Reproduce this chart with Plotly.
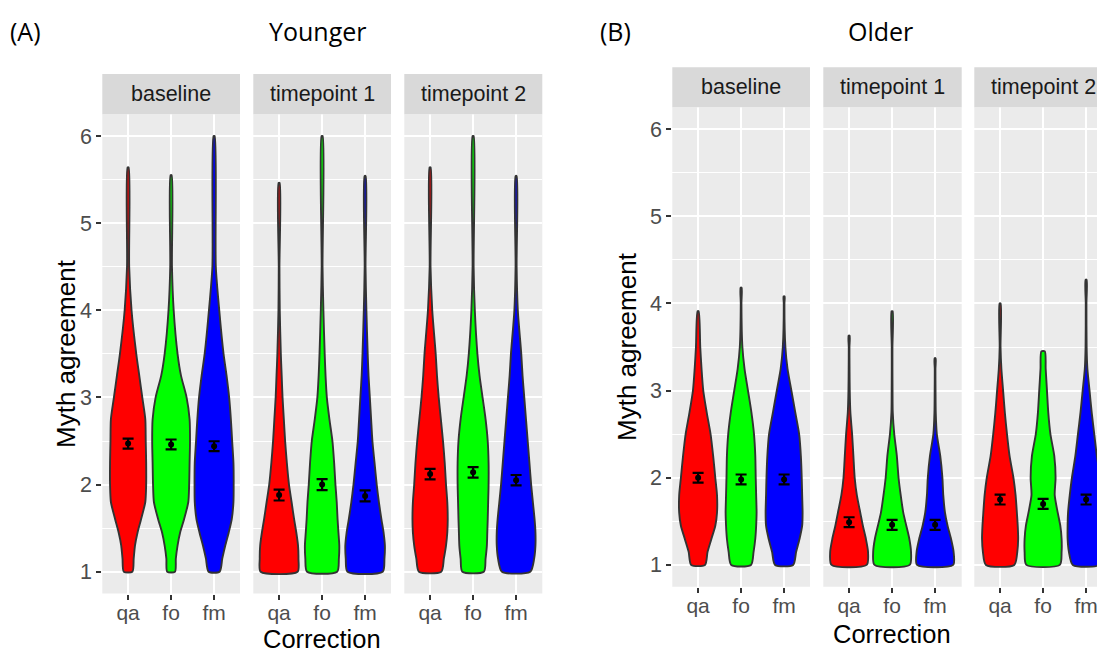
import plotly.graph_objects as go

# page body has an 8px default margin; figure is sized to fill the rest
OFF = 8
W, H = 1105 - OFF, 653 - OFF

# ---------------- data ----------------
CATEGORIES = ["qa", "fo", "fm"]
TIMEPOINTS = ["baseline", "timepoint 1", "timepoint 2"]
COLORS = ["#FF0000", "#00FF00", "#0000FF"]
Y_TICKS = [1, 2, 3, 4, 5, 6]
# y levels at which violin half-widths (in category units) were read
LEVELS = [1.0, 1.15, 1.3, 1.45, 1.6, 1.8, 2.0, 2.25, 2.5, 2.75, 3.0, 3.25, 3.5, 4.0, 4.5]

# Younger - baseline
young_base_qa = [.10, .13, .16, .22, .30, .40, .42, .42, .41, .40, .33, .26, .19, .08, .025]
young_base_fo = [.09, .11, .15, .21, .30, .40, .42, .43, .44, .43, .36, .23, .15, .06, .02]
young_base_fm = [.13, .19, .26, .34, .41, .45, .455, .45, .42, .39, .35, .29, .22, .12, .04]
young_base_tops = [5.64, 5.55, 6.0]
young_base_means = [2.47, 2.46, 2.44]
young_base_se = [0.057, 0.057, 0.057]

# Younger - timepoint 1
young_t1_qa = [.43, .45, .44, .40, .35, .29, .23, .18, .14, .11, .08, .06, .04, .015, .008]
young_t1_fo = [.35, .39, .40, .38, .36, .34, .31, .28, .24, .17, .11, .08, .06, .03, .01]
young_t1_fm = [.41, .45, .46, .43, .38, .32, .27, .22, .17, .14, .11, .08, .06, .03, .01]
young_t1_tops = [5.46, 6.0, 5.54]
young_t1_means = [1.88, 2.00, 1.87]
young_t1_se = [0.063, 0.063, 0.063]

# Younger - timepoint 2
young_t2_qa = [.26, .32, .37, .40, .41, .40, .37, .34, .30, .25, .20, .16, .13, .05, .01]
young_t2_fo = [.25, .29, .32, .33, .34, .35, .36, .36, .34, .29, .22, .15, .10, .04, .012]
young_t2_fm = [.33, .42, .45, .45, .43, .39, .35, .31, .27, .23, .19, .15, .12, .04, .012]
young_t2_tops = [5.64, 6.0, 5.54]
young_t2_means = [2.12, 2.14, 2.05]
young_t2_se = [0.06, 0.06, 0.06]

# Older - baseline
old_base_qa = [.16, .22, .31, .40, .44, .44, .40, .35, .29, .20, .12, .08, .05]
old_base_fo = [.23, .29, .33, .35, .36, .35, .34, .33, .30, .24, .16, .08, .03, .008]
old_base_fm = [.21, .28, .36, .42, .43, .42, .41, .39, .35, .26, .17, .08, .03, .008]
old_base_tops = [3.91, 4.18, 4.08]
old_base_means = [2.00, 1.98, 1.98]
old_base_se = [0.057, 0.057, 0.057]

# Older - timepoint 1
old_t1_qa = [.41, .44, .39, .32, .26, .18, .13, .10, .07, .03, .015, .01, .008]
old_t1_fo = [.41, .44, .40, .33, .26, .20, .15, .11, .05, .015, .01, .008, .008]
old_t1_fm = [.42, .43, .37, .29, .23, .19, .17, .12, .04, .015, .01, .008]
old_t1_tops = [3.63, 3.91, 3.37]
old_t1_means = [1.49, 1.46, 1.46]
old_t1_se = [0.057, 0.057, 0.057]

# Older - timepoint 2
old_t2_qa = [.33, .40, .42, .41, .39, .36, .31, .22, .16, .11, .07, .03, .01]
old_t2_fo = [.39, .43, .43, .40, .34, .27, .29, .26, .17, .12, .09, .06]
old_t2_fm = [.31, .40, .43, .43, .42, .38, .33, .25, .19, .13, .08, .03, .012, .008]
old_t2_tops = [4.0, 3.45, 4.27]
old_t2_top_w = [0.012, 0.04, 0.012]
old_t2_means = [1.75, 1.70, 1.75]
old_t2_se = [0.057, 0.057, 0.057]

# ---------------- layout geometry (page pixels) ----------------
FONT = "Liberation Sans, Arial, sans-serif"
TITLE_FONT = "Open Sans, Noto Sans, sans-serif"

def px(p):
    return (p - OFF) / W

def py(p):
    return 1 - (p - OFF) / H

A_TOP, A_BOT, A_STRIP = 114.2, 593.5, 74.0
B_TOP, B_BOT, B_STRIP = 107.3, 586.7, 67.3
PX_PER_UNIT = 43.0

panels = [
    (102.3, 240.0, A_TOP, A_BOT, A_STRIP, [young_base_qa, young_base_fo, young_base_fm],
     young_base_tops, None, young_base_means, young_base_se, TIMEPOINTS[0]),
    (253.3, 391.0, A_TOP, A_BOT, A_STRIP, [young_t1_qa, young_t1_fo, young_t1_fm],
     young_t1_tops, None, young_t1_means, young_t1_se, TIMEPOINTS[1]),
    (404.3, 542.3, A_TOP, A_BOT, A_STRIP, [young_t2_qa, young_t2_fo, young_t2_fm],
     young_t2_tops, None, young_t2_means, young_t2_se, TIMEPOINTS[2]),
    (672.3, 810.0, B_TOP, B_BOT, B_STRIP, [old_base_qa, old_base_fo, old_base_fm],
     old_base_tops, None, old_base_means, old_base_se, TIMEPOINTS[0]),
    (823.3, 961.7, B_TOP, B_BOT, B_STRIP, [old_t1_qa, old_t1_fo, old_t1_fm],
     old_t1_tops, None, old_t1_means, old_t1_se, TIMEPOINTS[1]),
    (974.3, 1112.3, B_TOP, B_BOT, B_STRIP, [old_t2_qa, old_t2_fo, old_t2_fm],
     old_t2_tops, old_t2_top_w, old_t2_means, old_t2_se, TIMEPOINTS[2]),
]

fig = go.Figure()
shapes = []
annotations = []

for i, (x0, x1, top, bot, strip_top, widths, tops, top_w, means, se, tp) in enumerate(panels):
    n = i + 1
    xa = "x" if n == 1 else f"x{n}"
    ya = "y" if n == 1 else f"y{n}"
    xkey = "xaxis" if n == 1 else f"xaxis{n}"
    ykey = "yaxis" if n == 1 else f"yaxis{n}"

    # violins
    for c, (w, t, col) in enumerate(zip(widths, tops, COLORS)):
        center = c + 1
        tw = top_w[c] if top_w else 0.012
        lv = [l for l in LEVELS[:len(w)] if l < t]
        ww = w[:len(lv)]
        right_x = [center + v for v in ww] + [center + tw]
        right_y = lv + [t]
        left_x = [center - tw] + [center - v for v in reversed(ww)]
        left_y = [t] + list(reversed(lv))
        fig.add_trace(go.Scatter(
            x=right_x + left_x + [right_x[0]], y=right_y + left_y + [right_y[0]],
            mode="lines", fill="toself", fillcolor=col,
            line=dict(color="#333333", width=1.9, shape="spline", smoothing=0.7),
            hoverinfo="skip", showlegend=False, xaxis=xa, yaxis=ya))

    # means with error bars
    fig.add_trace(go.Scatter(
        x=[1, 2, 3], y=means, mode="markers",
        marker=dict(color="black", size=6),
        error_y=dict(type="data", array=se, color="black", thickness=2.2, width=5.5),
        hoverinfo="skip", showlegend=False, xaxis=xa, yaxis=ya))

    xr = min(x1, OFF + W)
    visible_units = (xr - x0) / PX_PER_UNIT
    fig.layout[xkey] = dict(
        domain=[px(x0), px(xr)], anchor=ya, range=[0.4, 0.4 + visible_units],
        tickvals=[1, 2, 3], ticktext=CATEGORIES,
        showgrid=True, gridcolor="white", gridwidth=2.2,
        zeroline=False, showline=False,
        ticks="outside", ticklen=5, tickwidth=1.5, tickcolor="#333333",
        ticklabelstandoff=-5,
        tickfont=dict(family=FONT, size=21, color="#4D4D4D"),
        fixedrange=True,
    )
    first = n in (1, 4)
    fig.layout[ykey] = dict(
        domain=[py(bot), py(top)], anchor=xa, range=[0.75, 6.25],
        tickvals=Y_TICKS, showticklabels=first,
        showgrid=True, gridcolor="white", gridwidth=2.2,
        minor=dict(dtick=0.5, tick0=0.5, showgrid=True, gridcolor="white", gridwidth=1.1),
        zeroline=False, showline=False,
        ticks="outside" if first else "", ticklen=5, tickwidth=1.5, tickcolor="#333333",
        tickfont=dict(family=FONT, size=21.5, color="#4D4D4D"),
        fixedrange=True,
    )

    # panel background
    shapes.append(dict(type="rect", xref="paper", yref="paper", layer="below",
                       x0=px(x0), x1=px(xr), y0=py(bot), y1=py(top),
                       fillcolor="#EBEBEB", line=dict(width=0)))
    # strip
    shapes.append(dict(type="rect", xref="paper", yref="paper",
                       x0=px(x0), x1=px(xr), y0=py(top), y1=py(strip_top),
                       fillcolor="#D9D9D9", line=dict(width=0)))
    annotations.append(dict(text=tp, xref="paper", yref="paper", showarrow=False,
                            x=px((x0 + x1) / 2), y=py((strip_top + top) / 2),
                            xanchor="center", yanchor="middle",
                            font=dict(family=FONT, size=21.5, color="#1A1A1A")))

def ann(text, x, y, size, family, color="black", angle=0):
    annotations.append(dict(text=text, xref="paper", yref="paper", showarrow=False,
                            x=px(x), y=py(y), xanchor="center", yanchor="middle",
                            textangle=angle, font=dict(family=family, size=size, color=color)))

ann("(A)", 25, 31, 25, TITLE_FONT)
ann("Younger", 318, 31, 25, TITLE_FONT)
ann("(B)", 615, 31, 25, TITLE_FONT)
ann("Older", 880, 31, 25, TITLE_FONT)
ann("Myth agreement", 66, 354, 26, FONT, angle=-90)
ann("Myth agreement", 627, 347, 26, FONT, angle=-90)
ann("Correction", 322, 638.5, 25.5, FONT)
ann("Correction", 892, 634, 25.5, FONT)

fig.update_layout(
    width=W, height=H, margin=dict(l=0, r=0, t=0, b=0),
    paper_bgcolor="white", plot_bgcolor="rgba(0,0,0,0)",
    shapes=shapes, annotations=annotations, showlegend=False,
)

fig.write_html("out.html", config={"displayModeBar": False})
